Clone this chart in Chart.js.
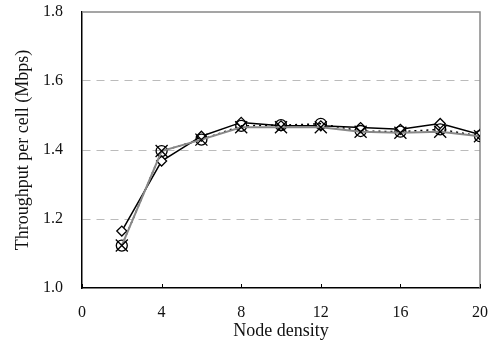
<!DOCTYPE html>
<html>
<head>
<meta charset="utf-8">
<script src="https://cdn.jsdelivr.net/npm/chart.js@4/dist/chart.umd.min.js"></script>
<style>
  html, body { margin: 0; padding: 0; background: #fff; }
  #wrap { width: 492px; height: 352px; }
</style>
</head>
<body>
<div id="wrap"><canvas id="lineChart"></canvas></div>
<script>
// node density on x
const density = [2, 4, 6, 8, 10, 12, 14, 16, 18, 20];
// throughput per cell (Mbps) for each scheme
const diamondVals = [1.165, 1.368, 1.44, 1.48, 1.47, 1.47, 1.465, 1.46, 1.477, 1.445];
const circleVals = [1.123, 1.397, 1.43, 1.47, 1.472, 1.476, 1.455, 1.453, 1.46, 1.44];
const crossVals = [1.123, 1.397, 1.43, 1.466, 1.466, 1.466, 1.453, 1.45, 1.453, 1.44];
const xTicks = [0, 4, 8, 12, 16, 20];
const yTicks = [1.0, 1.2, 1.4, 1.6, 1.8];

const toPoints = (vals) => vals.map((v, i) => ({ x: density[i], y: v }));

// gray frame on top/right and small inward ticks on x axis
const framePlugin = {
  id: 'frame',
  beforeDatasetsDraw(chart) {
    const { ctx, chartArea: a, scales } = chart;
    ctx.save();
    ctx.strokeStyle = '#888';
    ctx.lineWidth = 1.5;
    ctx.beginPath();
    ctx.moveTo(a.left, a.top);
    ctx.lineTo(a.right, a.top);
    ctx.lineTo(a.right, a.bottom);
    ctx.stroke();
    ctx.strokeStyle = '#000';
    ctx.lineWidth = 1;
    ctx.beginPath();
    xTicks.forEach(t => {
      const px = Math.round(scales.x.getPixelForValue(t)) + 0.5;
      ctx.moveTo(px, a.bottom);
      ctx.lineTo(px, a.bottom - 4);
    });
    ctx.stroke();
    ctx.restore();
  }
};

new Chart(document.getElementById('lineChart'), {
  type: 'line',
  data: {
    datasets: [
      {
        label: 'cross',
        data: toPoints(crossVals),
        borderColor: '#888',
        borderWidth: 2,
        pointStyle: 'crossRot',
        pointRadius: 8.5,
        pointBorderColor: '#000',
        pointBorderWidth: 1.3,
        pointBackgroundColor: '#000'
      },
      {
        label: 'circle',
        data: toPoints(circleVals),
        borderColor: '#000',
        borderWidth: 1.5,
        borderDash: [2, 4],
        pointStyle: 'circle',
        pointRadius: 5.5,
        pointBorderColor: '#000',
        pointBorderWidth: 1.3,
        pointBackgroundColor: 'rgba(255,255,255,0)'
      },
      {
        label: 'diamond',
        data: toPoints(diamondVals),
        borderColor: '#000',
        borderWidth: 1.5,
        pointStyle: 'rectRot',
        pointRadius: 5,
        pointBorderColor: '#000',
        pointBorderWidth: 1.3,
        pointBackgroundColor: '#fff'
      }
    ]
  },
  options: {
    responsive: true,
    maintainAspectRatio: false,
    animation: false,
    layout: { padding: { top: 12, right: 12, left: 0, bottom: 0 } },
    plugins: { legend: { display: false }, tooltip: { enabled: false } },
    elements: { line: { tension: 0 } },
    scales: {
      x: {
        type: 'linear',
        min: 0,
        max: 20,
        afterBuildTicks: (s) => { s.ticks = xTicks.map(v => ({ value: v })); },
        grid: { display: false, drawTicks: false },
        border: { display: true, color: '#000', width: 1.5 },
        ticks: {
          padding: 15,
          color: '#111',
          font: { family: 'Liberation Serif', size: 16 },
          maxRotation: 0
        },
        title: {
          display: true,
          text: 'Node density',
          color: '#111',
          font: { family: 'Liberation Serif', size: 18 },
          padding: { top: 0, bottom: 10 }
        },
        afterFit: (s) => { s.height = 64; s.paddingLeft = 0; s.paddingRight = 0; }
      },
      y: {
        min: 1.0,
        max: 1.8,
        afterBuildTicks: (s) => { s.ticks = yTicks.map(v => ({ value: v })); },
        grid: {
          drawTicks: false,
          color: (c) => (c.tick && (c.tick.value <= 1.0001 || c.tick.value >= 1.7999)) ? 'rgba(0,0,0,0)' : '#bbb',
          lineWidth: 1
        },
        border: { display: true, color: '#000', width: 1.5, dash: [8, 6] },
        ticks: {
          padding: 19,
          color: '#111',
          font: { family: 'Liberation Serif', size: 16 },
          callback: (v) => Number(v).toFixed(1)
        },
        title: {
          display: true,
          text: 'Throughput per cell (Mbps)',
          color: '#111',
          font: { family: 'Liberation Serif', size: 18 },
          padding: { top: 12, bottom: 0 }
        },
        afterFit: (s) => { s.width = 82; s.paddingTop = 0; s.paddingBottom = 0; }
      }
    }
  },
  plugins: [framePlugin]
});
</script>
</body>
</html>
